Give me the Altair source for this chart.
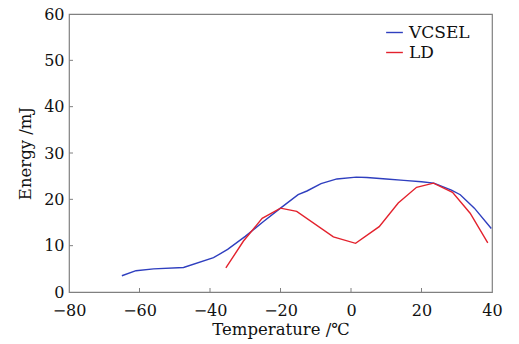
import altair as alt
import pandas as pd

vcsel_t = [-65, -61, -56, -47.5, -39, -35, -30, -25, -20, -15, -12.5, -8.5, -4, 1.5, 4.5, 10, 15, 20, 23.5, 28.5, 31, 35, 39.8]
vcsel_e = [3.5, 4.6, 5.0, 5.3, 7.4, 9.2, 12.0, 15.1, 18.1, 21.0, 21.8, 23.4, 24.4, 24.8, 24.7, 24.4, 24.1, 23.8, 23.5, 22.0, 21.0, 18.1, 13.7]
ld_t = [-35.5, -30.5, -25.2, -20, -15.4, -5, 1.3, 8, 13.4, 18.6, 23.4, 28.8, 33.8, 38.8]
ld_e = [5.2, 11.0, 15.9, 18.1, 17.4, 11.9, 10.5, 14.1, 19.2, 22.6, 23.5, 21.5, 17.0, 10.6]
x_ticks = [-80, -60, -40, -20, 0, 20, 40]
y_ticks = [0, 10, 20, 30, 40, 50, 60]
x_inner = [-60, -40, -20, 0, 20]
y_inner = [10, 20, 30, 40, 50]
series = ["VCSEL", "LD"]
colors = ["#2f3fbf", "#e3222d"]

df = pd.concat([
    pd.DataFrame({"T": vcsel_t, "E": vcsel_e, "s": "VCSEL", "o": range(len(vcsel_t))}),
    pd.DataFrame({"T": ld_t, "E": ld_e, "s": "LD", "o": range(len(ld_t))}),
])

FONT = "DejaVu Serif"
xs = alt.Scale(domain=[-80, 40], nice=False)
ys = alt.Scale(domain=[0, 60], nice=False)

lines = alt.Chart(df).mark_line(strokeWidth=1.4).encode(
    x=alt.X("T:Q", scale=xs, title="Temperature /℃",
            axis=alt.Axis(values=x_ticks, ticks=False, domain=False, grid=False,
                          labelPadding=10, titlePadding=3, labelFlush=False,
                          labelFont=FONT, labelFontSize=16, labelColor="#111",
                          titleFont=FONT, titleFontSize=16.5, titleFontWeight="normal", titleColor="#111")),
    y=alt.Y("E:Q", scale=ys, title="Energy /mJ",
            axis=alt.Axis(values=y_ticks, ticks=False, domain=False, grid=False,
                          labelPadding=5, titlePadding=10,
                          labelFont=FONT, labelFontSize=16, labelColor="#111",
                          titleFont=FONT, titleFontSize=16.5, titleFontWeight="normal", titleColor="#111")),
    color=alt.Color("s:N", scale=alt.Scale(domain=series, range=colors),
                    legend=alt.Legend(title=None, orient="none", legendX=316, legendY=9,
                                      symbolType="stroke", symbolSize=280, symbolStrokeWidth=1.4,
                                      labelFont=FONT, labelFontSize=17, labelColor="#111",
                                      rowPadding=2, labelOffset=5)),
    order="o:Q",
)

xt = alt.Chart(pd.DataFrame({"t": x_inner})).mark_rule(color="#808080").encode(
    x=alt.X("t:Q", scale=xs), y=alt.value(278), y2=alt.value(274))
yt = alt.Chart(pd.DataFrame({"t": y_inner})).mark_rule(color="#808080").encode(
    y=alt.Y("t:Q", scale=ys), x=alt.value(0), x2=alt.value(4))

chart = alt.layer(xt, yt, lines).properties(
    width=423, height=278,
    background="white",
    autosize=alt.AutoSizeParams(type="none"),
    padding={"left": 69, "top": 14, "right": 27, "bottom": 52},
).configure_view(stroke="#808080", strokeWidth=1.2)

chart.save("out.html", embed_options={"renderer": "svg", "actions": False})
